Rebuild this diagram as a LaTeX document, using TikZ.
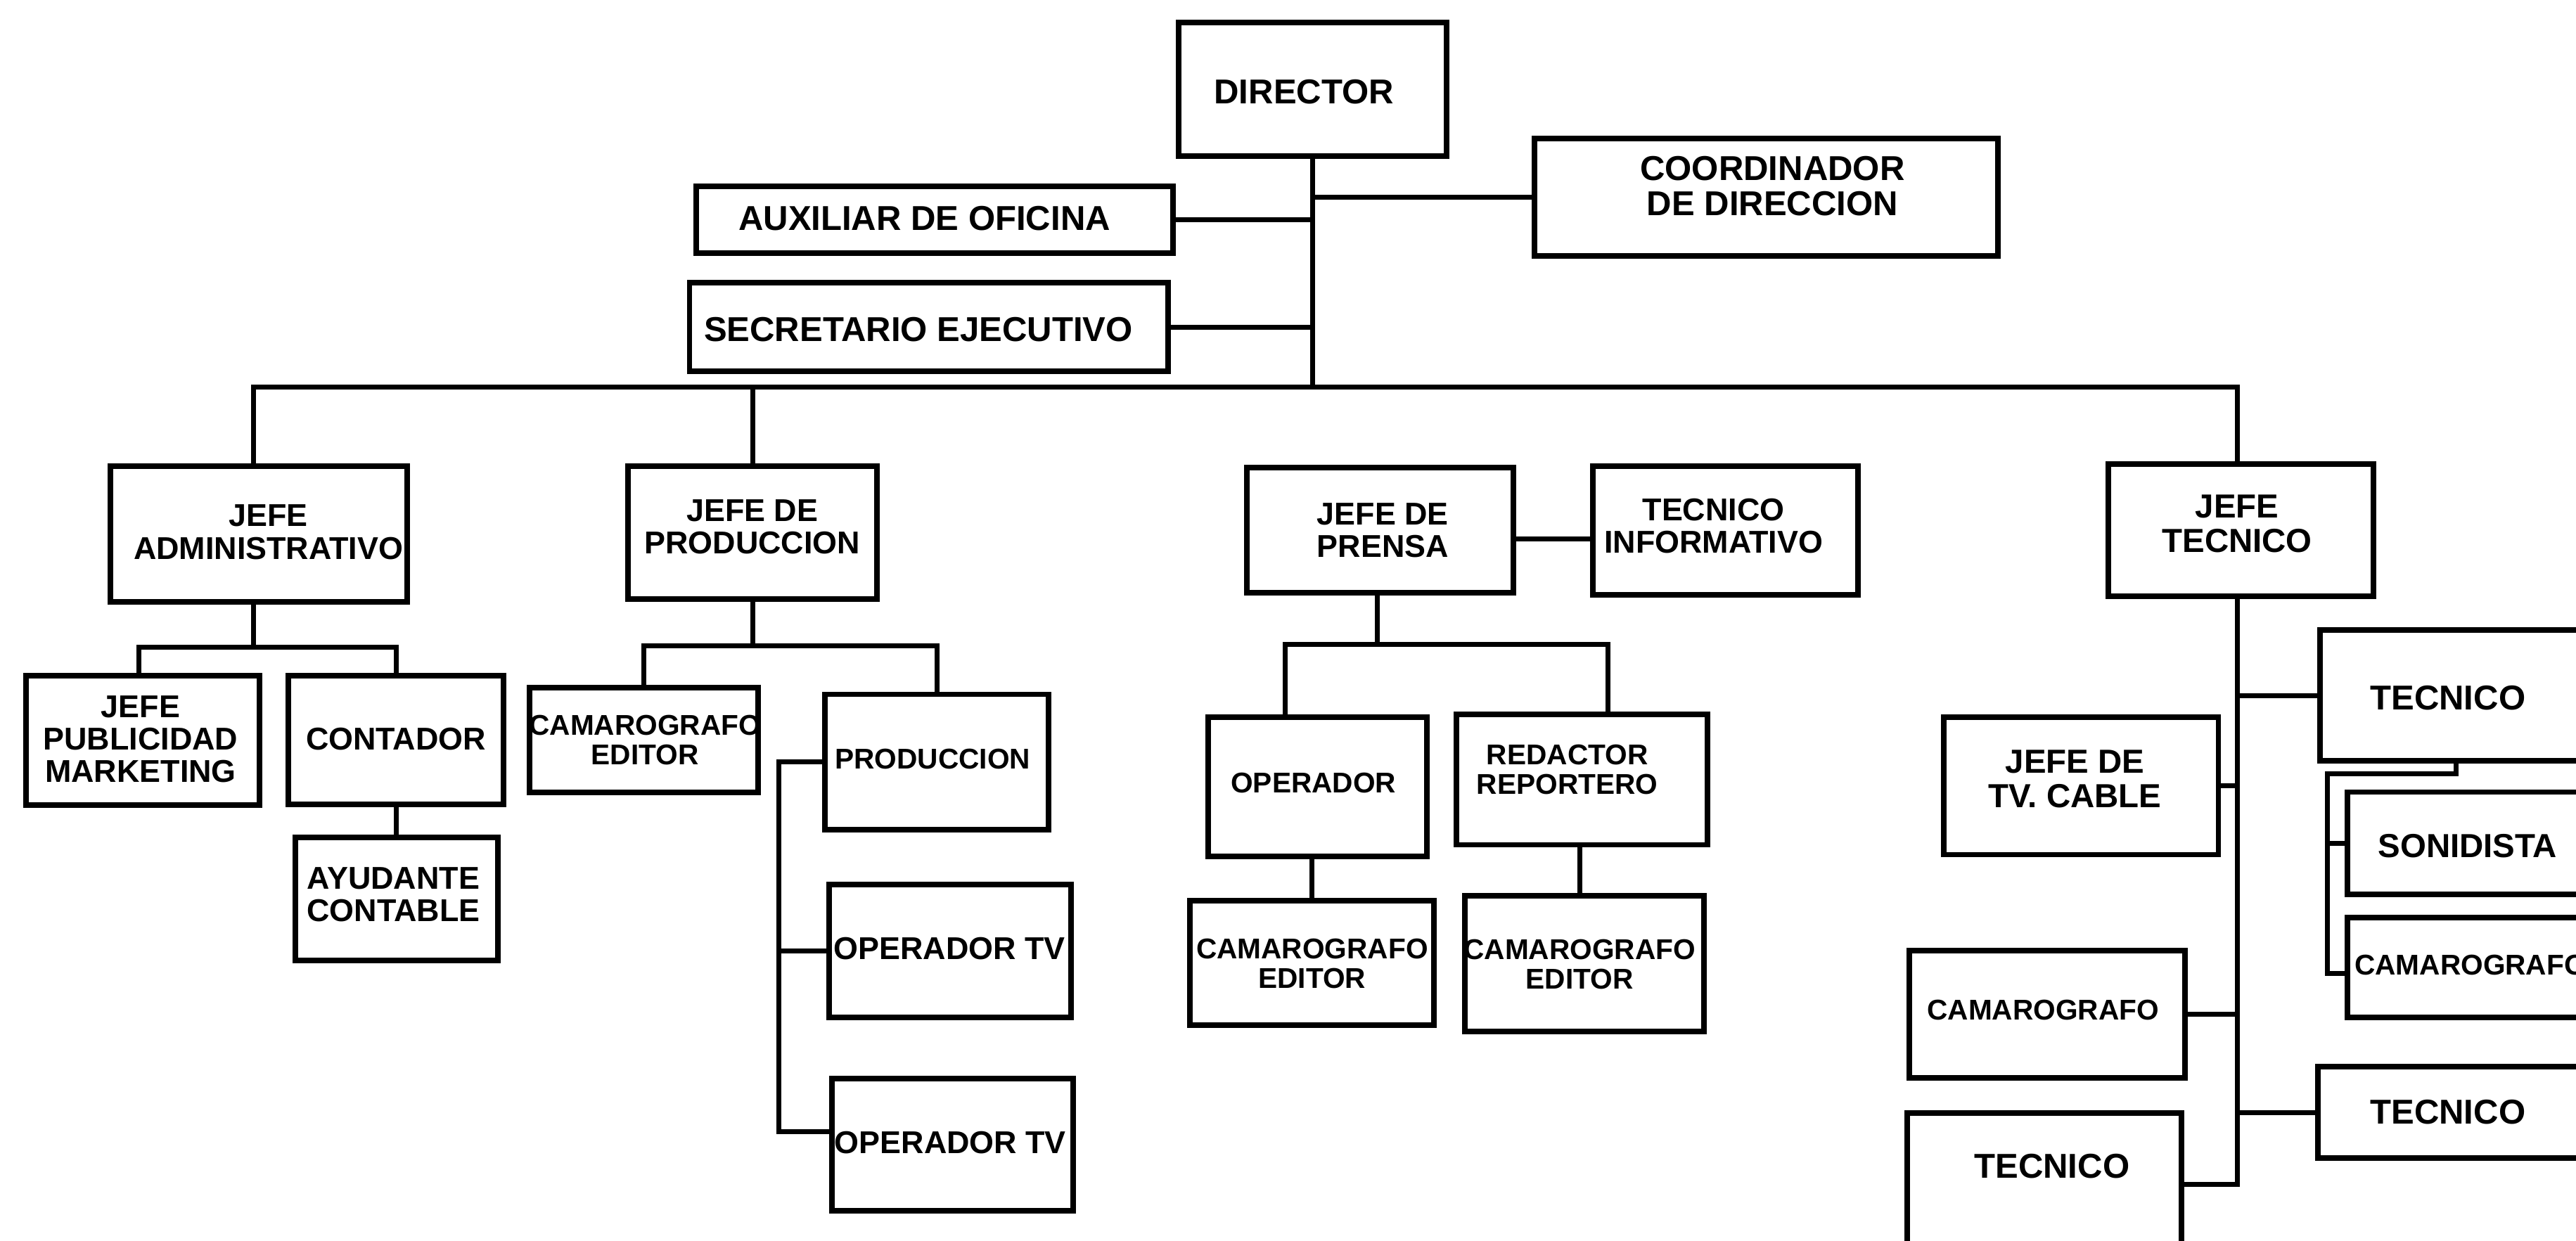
\documentclass[tikz,border=0pt]{standalone}
\usepackage{fontspec}
\setmainfont{Liberation Sans}
\newcommand\obox[5]{\node[orgbox, minimum width={(#4-#2-3.4)*1pt}, minimum height={(#5-#3-3.4)*1pt}] (#1) at ({(#2+#4)/2},{(#3+#5)/2}) {};}
\begin{document}
\begin{tikzpicture}[x=1pt,y=-1pt,
  orgbox/.style={draw=black, line width=3.4pt, inner sep=0pt, outer sep=0pt, rectangle},
  conn/.style={draw=black, line width=3pt},
  lbl/.style={inner sep=0pt, align=center, text=black},
  t21/.style={lbl, font=\fontsize{21}{21.6}\selectfont\bfseries},
  t20/.style={lbl, font=\fontsize{20.3}{21}\selectfont\bfseries},
  t19/.style={lbl, font=\fontsize{19.2}{19.8}\selectfont\bfseries},
  t17/.style={lbl, font=\fontsize{17.4}{18}\selectfont\bfseries}]
\useasboundingbox (0,0) rectangle (1568,755.5);
\clip (0,0) rectangle (1568,755.5);
\fill[white] (0,0) rectangle (1568,755.5);

% boxes
\obox{director}{715.6}{11.8}{882.2}{96.7}
\obox{coordbox}{932.5}{82.7}{1218}{157.6}
\obox{auxbox}{421.9}{111.9}{715.6}{155.6}
\obox{secbox}{418}{170.4}{712.8}{227.7}
\obox{jadm}{65.5}{282}{249.6}{368}
\obox{jprod}{380.7}{282}{535.5}{366.5}
\obox{jpren}{757.4}{282.8}{922.8}{362.6}
\obox{tecinf}{968}{282}{1132.7}{363.9}
\obox{jtec}{1281.5}{281}{1446.4}{364.6}
\obox{jpub}{14}{409.5}{159.5}{492}
\obox{cont}{174}{409.7}{308}{491.5}
\obox{ayud}{178}{508}{304.6}{586.5}
\obox{camp}{320.7}{417}{463}{484}
\obox{prodn}{500.4}{421}{640}{507}
\obox{optvA}{503}{536.8}{653.6}{621}
\obox{optvB}{504.6}{655}{655}{739}
\obox{oper}{733.6}{434.8}{870.3}{522.9}
\obox{redac}{884.7}{433.4}{1041}{516}
\obox{camL}{722.7}{546.7}{874.6}{626}
\obox{camR}{889.9}{543.7}{1039}{629.7}
\obox{tecA}{1410.4}{381.9}{1600}{465}
\obox{tvc}{1181.5}{435}{1352}{522}
\obox{sonid}{1427}{480.5}{1600}{546}
\obox{camr}{1427}{557}{1600}{621}
\obox{caml}{1160.6}{577}{1331.8}{658}
\obox{tecB}{1409}{647.7}{1600}{706.8}
\obox{tecC}{1159}{676}{1329.6}{790}

% texts
\node[t21] (directort) at (793.7,55.7) {DIRECTOR};
\node[t21] (coordt) at (1078.9,113.2) {COORDINADOR\\DE DIRECCION};
\node[t21] (auxt) at (562.7,133) {AUXILIAR DE OFICINA};
\node[t21] (sect) at (559,200.7) {SECRETARIO EJECUTIVO};
\node[t19] (jadmt) at (163.3,324) {JEFE\\ADMINISTRATIVO};
\node[t19] (jprodt) at (457.9,320.8) {JEFE DE\\PRODUCCION};
\node[t19] (jprent) at (841.7,323) {JEFE DE\\PRENSA};
\node[t19] (tecinft) at (1043,320.3) {TECNICO\\INFORMATIVO};
\node[t20] (jtect) at (1361.7,319) {JEFE\\TECNICO};
\node[t19] (jpubt) at (85.6,450) {JEFE\\PUBLICIDAD\\MARKETING};
\node[t19] (contt) at (241,450) {CONTADOR};
\node[t19] (ayudt) at (239.5,544.5) {AYUDANTE\\CONTABLE};
\node[t17] (campt) at (392.6,450.5) {CAMAROGRAFO\\EDITOR};
\node[t17] (prodnt) at (567.7,462) {PRODUCCION};
\node[t19] (optvAt) at (577.9,577.6) {OPERADOR TV};
\node[t19] (optvBt) at (578.5,695.7) {OPERADOR TV};
\node[t17] (opert) at (799.5,476.5) {OPERADOR};
\node[t17] (redact) at (954,468.5) {REDACTOR\\REPORTERO};
\node[t17] (camLt) at (798.7,586.5) {CAMAROGRAFO\\EDITOR};
\node[t17] (camRt) at (961.5,587) {CAMAROGRAFO\\EDITOR};
\node[t21] (tecAt) at (1490,425) {TECNICO};
\node[t20] (tvct) at (1263,474.3) {JEFE DE\\TV. CABLE};
\node[t20] (sonidt) at (1502,515) {SONIDISTA};
\node[t17, anchor=west] (camrt) at (1433,587.5) {CAMAROGRAFO};
\node[t17] (camlt) at (1243.6,614.7) {CAMAROGRAFO};
\node[t21] (tecBt) at (1490,677) {TECNICO};
\node[t21] (tecCt) at (1249,709.8) {TECNICO};

% connectors: top
\coordinate (busL) at (154.5,235.5);
\coordinate (busR) at (1361.7,235.5);
\draw[conn] (busL |- jadm.north) -- (busL) -- (busR) -- (busR |- jtec.north);
\draw[conn] (director.south) -- (director.south |- busL);
\draw[conn] (coordbox.west) -- (coordbox.west -| director.south);
\draw[conn] (auxbox.east) -- (auxbox.east -| director.south);
\draw[conn] (secbox.east) -- (secbox.east -| director.south);
\draw[conn] (jprod.north |- busL) -- (jprod.north);

% administrativo
\coordinate (ja) at (154.5,394);
\coordinate (jaL) at (84.6,0);
\draw[conn] (busL |- jadm.south) -- (ja);
\draw[conn] (jaL |- jpub.north) |- (ja) -| (cont.north);
\draw[conn] (cont.south) -- (cont.south |- ayud.north);

% produccion
\coordinate (jp) at (458.1,393);
\draw[conn] (jprod.south) -- (jprod.south |- jp);
\draw[conn] (camp.north) |- (jp) -| (prodn.north);
\coordinate (pb) at (474,689);
\draw[conn] (prodn.west) -| (pb) -- (pb -| optvB.west);
\draw[conn] (optvA.west) -- (optvA.west -| pb);

% prensa
\coordinate (prY) at (0,328);
\draw[conn] (jpren.east |- prY) -- (tecinf.west |- prY);
\coordinate (jq) at (838.2,392.4);
\draw[conn] (jq |- jpren.south) -- (jq);
\coordinate (qL) at (782.3,392.4);
\coordinate (qR) at (978.6,392.4);
\draw[conn] (qL |- oper.north) -- (qL) -- (qR) -- (qR |- redac.north);
\coordinate (xo) at (798.7,0);
\draw[conn] (xo |- oper.south) -- (xo |- camL.north);
\coordinate (xr) at (961.5,0);
\draw[conn] (xr |- redac.south) -- (xr |- camR.north);

% tecnico
\coordinate (jt) at (1361.7,721);
\draw[conn] (jt |- jtec.south) -- (jt) -- (jt -| tecC.east);
\draw[conn] (tecA.west) -- (tecA.west -| jt);
\draw[conn] (tvc.east) -- (tvc.east -| jt);
\draw[conn] (caml.east) -- (caml.east -| jt);
\draw[conn] (tecB.west) -- (tecB.west -| jt);
\coordinate (tb1) at (1495,471);
\coordinate (tb2) at (1416.5,471);
\coordinate (tb) at (1416.5,592.5);
\draw[conn] (tb1 |- tecA.south) -- (tb1) -- (tb2) -- (tb) -- (tb -| camr.west);
\draw[conn] (sonid.west) -- (sonid.west -| tb);
\end{tikzpicture}
\end{document}
